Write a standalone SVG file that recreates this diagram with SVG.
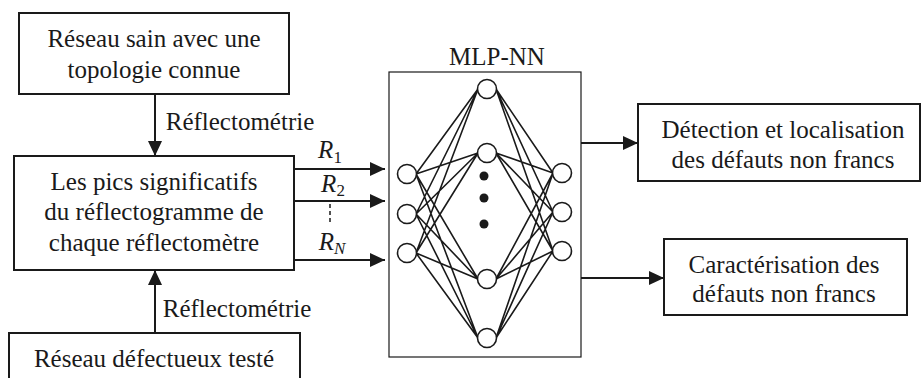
<svg xmlns="http://www.w3.org/2000/svg" width="921" height="378" viewBox="0 0 921 378">
<defs>
<marker id="ah" markerUnits="userSpaceOnUse" markerWidth="16" markerHeight="14" refX="15" refY="7" orient="auto">
<path d="M0,0 L15,7 L0,14 Z" fill="#1a1a1a"/>
</marker>
<style>
text{font-family:"Liberation Serif","Times New Roman",serif;font-size:25px;fill:#1a1a1a;text-anchor:middle}
.box{fill:#fff;stroke:#1a1a1a;stroke-width:2}
.conn{stroke:#1a1a1a;stroke-width:2;fill:none}
.arr{marker-end:url(#ah)}
.nl{stroke:#1a1a1a;stroke-width:1.6;fill:none}
.neu{fill:#fff;stroke:#1a1a1a;stroke-width:1.6}
.math{font-style:italic}
</style>
</defs>
<rect width="921" height="378" fill="#fff"/>

<g id="connectors">
<line class="conn arr" x1="155" y1="94" x2="155" y2="156"/>
<text x="240" y="130">Réflectométrie</text>
<line class="conn arr" x1="155" y1="333" x2="155" y2="270"/>
<text x="237" y="317">Réflectométrie</text>
<line class="conn arr" x1="294" y1="169" x2="385" y2="169"/>
<line class="conn arr" x1="294" y1="201" x2="385" y2="201"/>
<line class="conn arr" x1="294" y1="260" x2="385" y2="260"/>
<line x1="330" y1="204" x2="330" y2="225" stroke="#1a1a1a" stroke-width="1.5" stroke-dasharray="4,3"/>
<text class="math" x="330" y="158">R<tspan font-size="17" font-style="normal" dy="5">1</tspan></text>
<text class="math" x="333" y="192">R<tspan font-size="17" font-style="normal" dy="4">2</tspan></text>
<text class="math" x="332" y="250">R<tspan font-size="17" dy="4">N</tspan></text>
<line class="conn arr" x1="581" y1="143" x2="638" y2="143"/>
<line class="conn arr" x1="581" y1="278" x2="664" y2="278"/>
</g>

<g id="node-reseau-sain">
<rect class="box" x="19" y="13" width="270" height="81"/>
<text x="154" y="47">Réseau sain avec une</text>
<text x="154" y="77.5">topologie connue</text>
</g>

<g id="node-pics">
<rect class="box" x="14" y="156" width="280" height="114"/>
<text x="154" y="189.5">Les pics significatifs</text>
<text x="154" y="220">du réflectogramme de</text>
<text x="154" y="250.5">chaque réflectomètre</text>
</g>

<g id="node-reseau-defectueux">
<rect class="box" x="9" y="333" width="291" height="60"/>
<text x="154" y="367">Réseau défectueux testé</text>
</g>

<g id="node-mlp">
<text x="497" y="65">MLP-NN</text>
<rect x="389" y="72" width="192" height="285" fill="#fff" stroke="#1a1a1a" stroke-width="1.2"/>
<g id="mlp-links">
<path class="nl" d="M416,174 L478,89 M416,174 L478,153 M416,174 L478,279 M416,174 L478,338
M416,214 L478,89 M416,214 L478,153 M416,214 L478,279 M416,214 L478,338
M416,253 L478,89 M416,253 L478,153 M416,253 L478,279 M416,253 L478,338
M496,89 L553,173 M496,89 L553,212 M496,89 L553,251
M496,153 L553,173 M496,153 L553,212 M496,153 L553,251
M496,279 L553,173 M496,279 L553,212 M496,279 L553,251
M496,338 L553,173 M496,338 L553,212 M496,338 L553,251"/>
</g>
<circle class="neu" cx="407" cy="174" r="9.5"/>
<circle class="neu" cx="407" cy="214" r="9.5"/>
<circle class="neu" cx="407" cy="253" r="9.5"/>
<circle class="neu" cx="487" cy="89" r="9.5"/>
<circle class="neu" cx="487" cy="153" r="9.5"/>
<circle class="neu" cx="487" cy="279" r="9.5"/>
<circle class="neu" cx="487" cy="338" r="9.5"/>
<circle class="neu" cx="562" cy="173" r="9.5"/>
<circle class="neu" cx="562" cy="212" r="9.5"/>
<circle class="neu" cx="562" cy="251" r="9.5"/>
<circle cx="484" cy="176" r="4.5" fill="#1a1a1a"/>
<circle cx="484" cy="198" r="4.5" fill="#1a1a1a"/>
<circle cx="484" cy="224" r="4.5" fill="#1a1a1a"/>
</g>

<g id="node-detection">
<rect class="box" x="638" y="104" width="282" height="77"/>
<text x="783" y="138">Détection et localisation</text>
<text x="783" y="168">des défauts non francs</text>
</g>

<g id="node-caracterisation">
<rect class="box" x="664" y="239" width="243" height="76"/>
<text x="784" y="273">Caractérisation des</text>
<text x="784" y="302">défauts non francs</text>
</g>
</svg>
